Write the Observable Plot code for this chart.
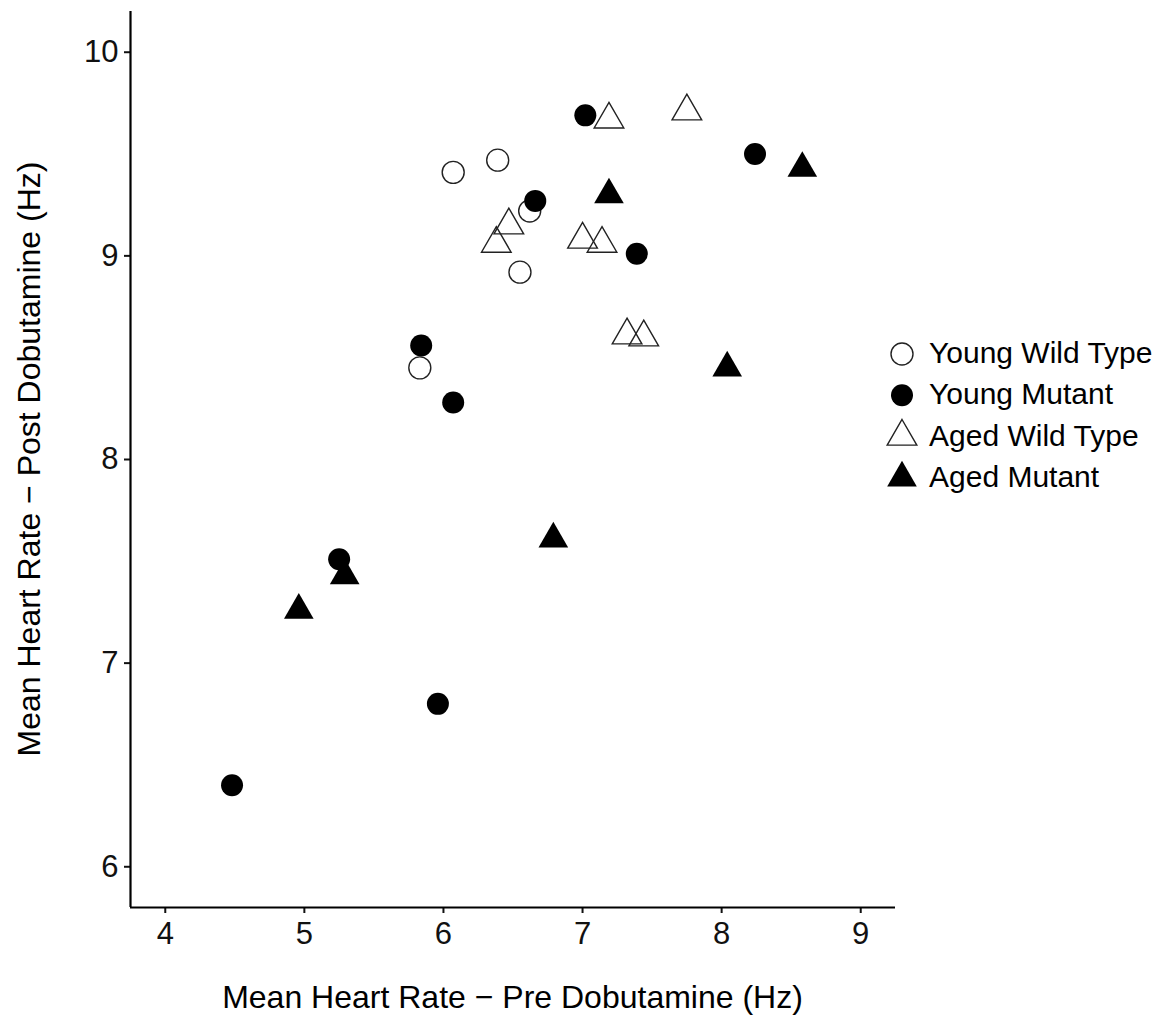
<!DOCTYPE html>
<html>
<head>
<meta charset="utf-8">
<script src="https://cdn.jsdelivr.net/npm/d3@7"></script>
<script src="https://cdn.jsdelivr.net/npm/@observablehq/plot@0.6"></script>
<style>
  html, body { margin: 0; padding: 0; background: #fff; }
  #chart { width: 1176px; height: 1015px; }
</style>
</head>
<body>
<div id="chart"></div>
<script>
// ---- data ----
const groups = ["Young Wild Type", "Young Mutant", "Aged Wild Type", "Aged Mutant"];

const youngWildTypePre  = [6.39, 6.07, 6.62, 6.55, 5.83];
const youngWildTypePost = [9.47, 9.41, 9.22, 8.92, 8.45];

const youngMutantPre  = [7.02, 8.24, 6.66, 7.39, 5.84, 6.07, 5.25, 5.96, 4.48];
const youngMutantPost = [9.69, 9.50, 9.27, 9.01, 8.56, 8.28, 7.51, 6.80, 6.40];

const agedWildTypePre  = [7.19, 7.75, 6.47, 6.38, 7.00, 7.14, 7.32, 7.44];
const agedWildTypePost = [9.67, 9.71, 9.15, 9.06, 9.08, 9.06, 8.61, 8.60];

const agedMutantPre  = [8.58, 7.19, 8.04, 6.79, 5.29, 4.96];
const agedMutantPost = [9.43, 9.30, 8.45, 7.61, 7.43, 7.26];

const xTicks = [4, 5, 6, 7, 8, 9];
const yTicks = [6, 7, 8, 9, 10];
const xTitle = "Mean Heart Rate − Pre Dobutamine (Hz)";
const yTitle = "Mean Heart Rate − Post Dobutamine (Hz)";

const toRows = (xs, ys, g) => xs.map((x, i) => ({pre: x, post: ys[i], group: g}));
const ywt = toRows(youngWildTypePre, youngWildTypePost, groups[0]);
const ymu = toRows(youngMutantPre, youngMutantPost, groups[1]);
const awt = toRows(agedWildTypePre, agedWildTypePost, groups[2]);
const amu = toRows(agedMutantPre, agedMutantPost, groups[3]);

const W = 1176, H = 1015;
const FONT = "'Liberation Sans', Arial, Helvetica, sans-serif";
const R = 11;

const plot = Plot.plot({
  width: W,
  height: H,
  marginLeft: 130,
  marginRight: 281,
  marginTop: 11,
  marginBottom: 108,
  style: {fontFamily: FONT, fontSize: "30px", color: "#111", background: "#fff", overflow: "visible"},
  x: {domain: [3.75, 9.25]},
  y: {domain: [5.8, 10.2]},
  marks: [
    Plot.axisX({ticks: xTicks, tickSize: 6, tickPadding: 8, fontSize: 31, strokeWidth: 2, label: null, tickFormat: d => String(d)}),
    Plot.axisY({ticks: yTicks, tickSize: 6, tickPadding: 6, fontSize: 31, strokeWidth: 2, label: null, tickFormat: d => String(d)}),
    Plot.ruleY([5.8], {stroke: "#000", strokeWidth: 2.2}),
    Plot.ruleX([3.75], {stroke: "#000", strokeWidth: 2.2}),
    Plot.dot(ywt, {x: "pre", y: "post", r: R, symbol: "circle", fill: "none", stroke: "#222", strokeWidth: 1.4}),
    Plot.dot(ymu, {x: "pre", y: "post", r: R, symbol: "circle", fill: "#000", stroke: "none"}),
    Plot.dot(awt, {x: "pre", y: "post", r: R, symbol: "triangle", fill: "none", stroke: "#222", strokeWidth: 1.4}),
    Plot.dot(amu, {x: "pre", y: "post", r: R, symbol: "triangle", fill: "#000", stroke: "none"})
  ]
});

const svg = d3.select(plot);

// axis titles
svg.append("text")
  .attr("x", (130 + (W - 281)) / 2)
  .attr("y", 1008)
  .attr("text-anchor", "middle")
  .attr("font-family", FONT)
  .attr("font-size", 32)
  .attr("fill", "#000")
  .text(xTitle);

svg.append("text")
  .attr("transform", `translate(40, ${(11 + (H - 108)) / 2}) rotate(-90)`)
  .attr("text-anchor", "middle")
  .attr("font-family", FONT)
  .attr("font-size", 32)
  .attr("fill", "#000")
  .text(yTitle);

// legend
const legendStyles = [
  {type: d3.symbolCircle, fill: "none", stroke: "#222"},
  {type: d3.symbolCircle, fill: "#000", stroke: "none"},
  {type: d3.symbolTriangle, fill: "none", stroke: "#222"},
  {type: d3.symbolTriangle, fill: "#000", stroke: "none"}
];
const lg = svg.append("g").attr("font-family", FONT).attr("font-size", 30).attr("text-anchor", "start");
groups.forEach((g, i) => {
  const cy = 354 + i * 41.3;
  const st = legendStyles[i];
  lg.append("path")
    .attr("transform", `translate(902, ${cy})`)
    .attr("d", d3.symbol(st.type, R * R * Math.PI)())
    .attr("fill", st.fill)
    .attr("stroke", st.stroke)
    .attr("stroke-width", 1.4);
  lg.append("text")
    .attr("x", 929)
    .attr("y", cy + 9)
    .attr("text-anchor", "start")
    .attr("fill", "#000")
    .text(g);
});

document.getElementById("chart").appendChild(plot);
</script>
</body>
</html>
